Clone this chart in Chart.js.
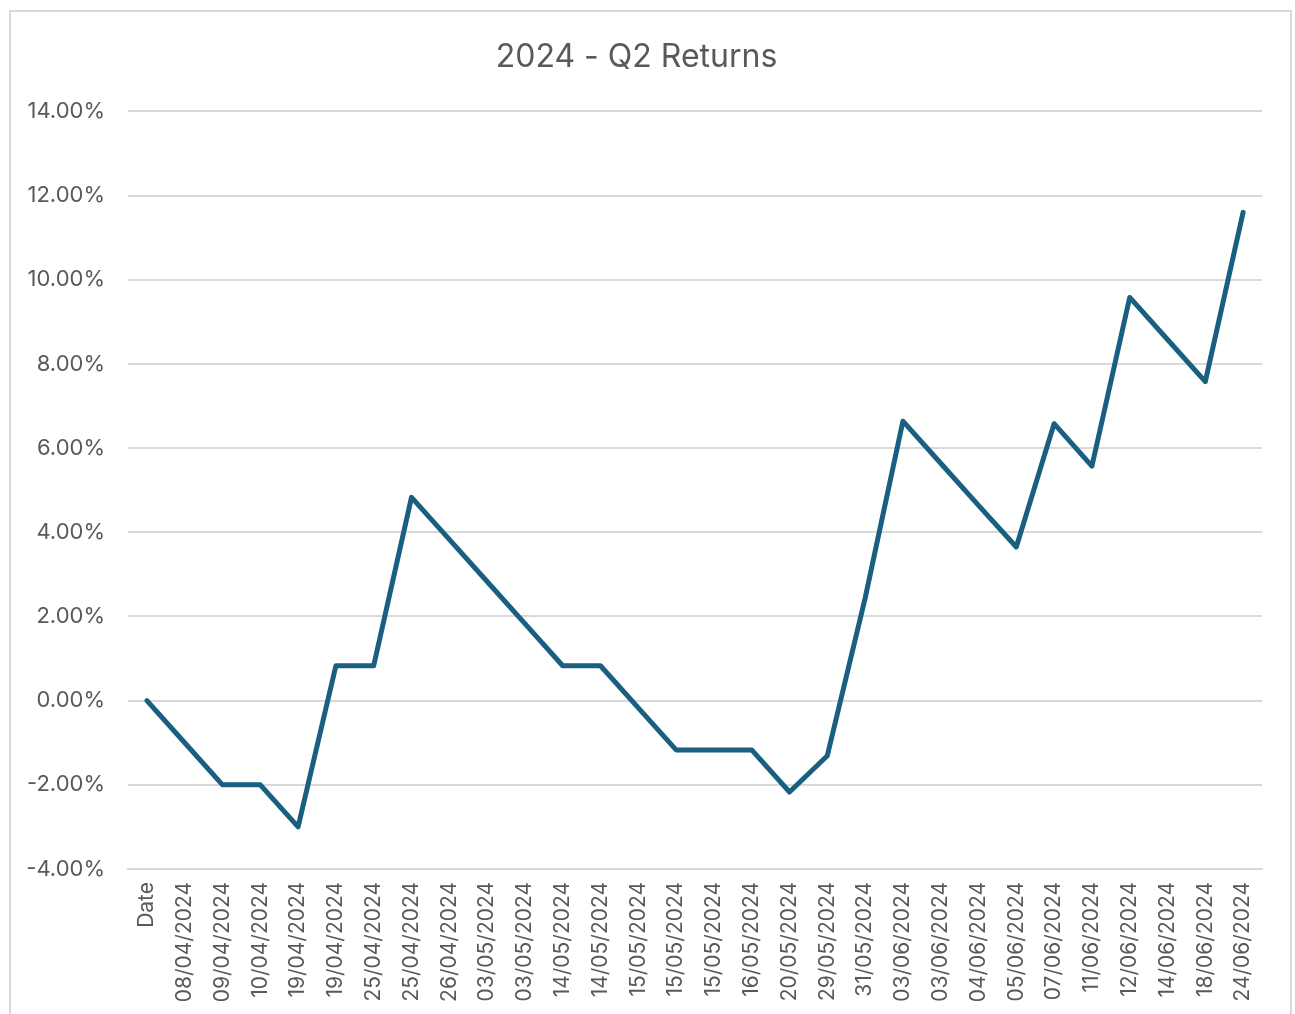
<!DOCTYPE html>
<html lang="en">
<head>
    <script src="https://cdn.jsdelivr.net/npm/chart.js"></script>
    <style>
        body { margin: 0; background: #fff; overflow: hidden; }
        #frame {
            position: absolute; left: 9px; top: 10px;
            width: 1279px; height: 1010px;
            border: 2px solid #d9d9d9;
        }
    </style>
</head>
<body>

    <div id="frame">
        <canvas id="returnsChart" width="1279" height="1010"></canvas>
    </div>

    <script>
        const dates = [
            "Date", "08/04/2024", "09/04/2024", "10/04/2024", "19/04/2024", "19/04/2024",
            "25/04/2024", "25/04/2024", "26/04/2024", "03/05/2024", "03/05/2024", "14/05/2024",
            "14/05/2024", "15/05/2024", "15/05/2024", "15/05/2024", "16/05/2024", "20/05/2024",
            "29/05/2024", "31/05/2024", "03/06/2024", "03/06/2024", "04/06/2024", "05/06/2024",
            "07/06/2024", "11/06/2024", "12/06/2024", "14/06/2024", "18/06/2024", "24/06/2024"
        ];

        // cumulative return, in %
        const returns = [
            0.00, -1.00, -2.00, -2.00, -3.00, 0.83,
            0.83, 4.83, 3.83, 2.83, 1.83, 0.83,
            0.83, -0.17, -1.17, -1.17, -1.17, -2.17,
            -1.31, 2.43, 6.64, 5.64, 4.64, 3.65,
            6.58, 5.57, 9.58, 8.58, 7.58, 11.60
        ];

        const yTicks = [-4, -2, 0, 2, 4, 6, 8, 10, 12, 14];

        const textColor = '#595959';
        const gridColor = '#d9d9d9';
        const fontFamily = 'Inter, "Liberation Sans", sans-serif';

        const ctx = document.getElementById('returnsChart').getContext('2d');

        new Chart(ctx, {
            type: 'line',
            data: {
                labels: dates,
                datasets: [{
                    label: "Returns",
                    data: returns,
                    borderColor: '#185f80',
                    borderWidth: 5,
                    borderCapStyle: 'round',
                    borderJoinStyle: 'round',
                    pointRadius: 0,
                    tension: 0,
                    fill: false
                }]
            },
            options: {
                responsive: false,
                animation: false,
                layout: { padding: { top: 0, right: 28, bottom: 0, left: 0 } },
                scales: {
                    x: {
                        offset: true,
                        grid: { display: false, drawTicks: false },
                        border: { display: true, color: gridColor, width: 2 },
                        ticks: {
                            color: textColor,
                            font: { family: fontFamily, size: 21 },
                            minRotation: 90,
                            maxRotation: 90,
                            autoSkip: false,
                            padding: 13
                        },
                        afterFit: function(scale) { scale.height = 153; }
                    },
                    y: {
                        min: yTicks[0],
                        max: yTicks[yTicks.length - 1],
                        afterBuildTicks: function(scale) {
                            scale.ticks = yTicks.map(v => ({ value: v }));
                        },
                        grid: { color: gridColor, lineWidth: 2, drawTicks: false },
                        border: { display: false },
                        ticks: {
                            color: textColor,
                            font: { family: fontFamily, size: 22 },
                            padding: 23,
                            callback: function(v) { return v.toFixed(2) + '%'; }
                        },
                        afterFit: function(scale) { scale.width = 117; }
                    }
                },
                plugins: {
                    legend: { display: false },
                    tooltip: { enabled: false },
                    title: {
                        display: true,
                        text: '2024 - Q2 Returns',
                        color: textColor,
                        font: { family: fontFamily, size: 32, weight: 'normal' },
                        padding: { top: 26, bottom: 35 }
                    }
                }
            }
        });
    </script>

</body>
</html>
